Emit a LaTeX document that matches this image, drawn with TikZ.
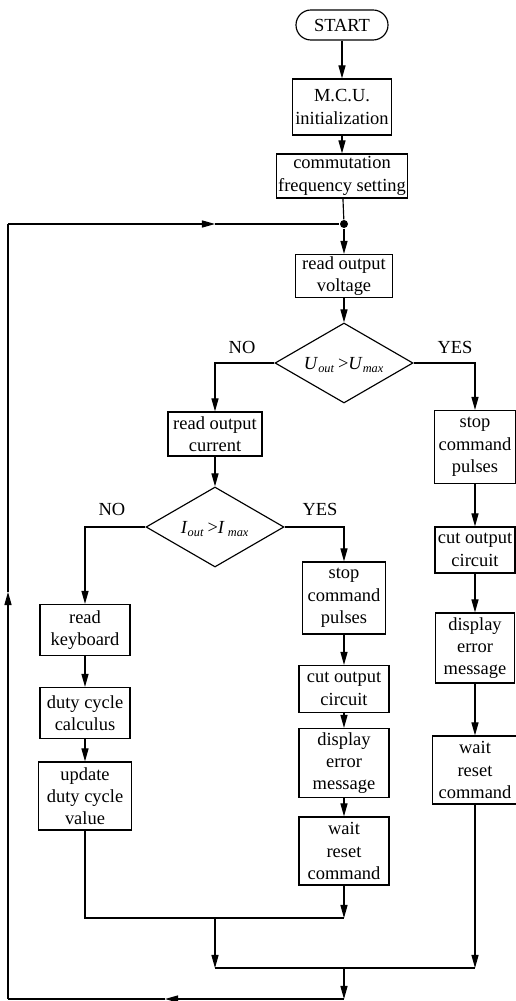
\documentclass[tikz,border=0pt]{standalone}
\usepackage{fontspec}
\setmainfont{Liberation Serif}
\usetikzlibrary{arrows.meta,shapes.geometric}

\tikzset{
  every node/.style={font=\fontsize{12}{14.5}\selectfont},
  box/.style 2 args={draw, align=center, inner sep=1pt,
    minimum width=#1*0.65pt, minimum height=#2*0.65pt},
  cond/.style={draw, diamond, inner sep=0pt, minimum width=138*0.65pt,
    minimum height=80*0.65pt},
  flow/.style={-{Triangle[length=8.5pt,width=4.6pt]}},
}

\begin{document}
\begin{tikzpicture}[x=0.65pt,y=-0.65pt,line width=0.75pt]
\useasboundingbox (0,0) rectangle (515,1001);

% main column
\node[draw, rounded corners=9.7pt, minimum width=92*0.65pt, minimum height=30*0.65pt,
  inner sep=1pt] (start) at (342,25) {START};
\node[box={99}{56}] (mcu) at (342,107) {M.C.U.\\initialization};
\node[box={127}{44}] (comm) at (342,176) {commutation\\frequency setting};
\node[circle, fill, inner sep=0pt, minimum size=8*0.65pt] (dot) at (344,224) {};
\node[box={97}{43}] (volt) at (344,276) {read output\\voltage};
\node[cond] (ucond) at (344,363) {};
\node at (344,365) {\textit{U}\textsubscript{\textit{out}}\,>\textit{U}\textsubscript{\textit{max}}};
\node (uno) at (242,347) {NO};
\node (uyes) at (455,347) {YES};

\draw[flow] (start) -- (mcu);
\draw[flow] (mcu) -- (comm);
\draw (comm) -- (dot);
\draw[flow] (dot) -- (volt);
\draw[flow] (volt) -- (ucond);

% current branch
\node[box={94}{44}] (cur) at (215,434) {read output\\current};
\node[cond] (icond) at (215,527) {};
\node at (215,529) {\textit{I}\textsubscript{\textit{out}}\,>\textit{I}\,\textsubscript{\textit{max}}};
\node (ino) at (112,509) {NO};
\node (iyes) at (320,509) {YES};

\draw[flow] (ucond.west) -| (cur);
\draw[flow] (cur) -- (icond);

% left one
\node[box={90}{51}] (kbd) at (85,630) {read\\keyboard};
\node[box={90}{51}] (calc) at (85,713) {duty cycle\\calculus};
\node[box={93}{68}] (upd) at (85,796) {update\\duty cycle\\value};
\draw[flow] (icond.west) -| (kbd);
\draw[flow] (kbd) -- (calc);
\draw[flow] (calc) -- (upd);

% middle one
\node[box={83}{72}] (stopm) at (344,598) {stop\\command\\pulses};
\node[box={90}{47}] (cutm) at (344,689) {cut output\\circuit};
\node[box={90}{69}] (dispm) at (344,763) {display\\error\\message};
\node[box={90}{68}] (waitm) at (344,851) {wait\\reset\\command};
\draw[flow] (icond.east) -| (stopm);
\draw[flow] (stopm) -- (cutm);
\draw[flow] (cutm) -- (dispm);
\draw[flow] (dispm) -- (waitm);

% right one
\node[box={81}{73}] (stopr) at (475,447) {stop\\command\\pulses};
\node[box={80}{46}] (cutr) at (475,550) {cut output\\circuit};
\node[box={79}{70}] (dispr) at (475,648) {display\\error\\message};
\node[box={85}{68}] (waitr) at (475,770) {wait\\reset\\command};
\draw[flow] (ucond.east) -| (stopr);
\draw[flow] (stopr) -- (cutr);
\draw[flow] (cutr) -- (dispr);
\draw[flow] (dispr) -- (waitr);

% joining and loop back
\coordinate (m1) at (344,918);
\coordinate (m2) at (215,918);
\coordinate (m3) at (215,968);
\coordinate (m4) at (475,968);
\coordinate (m5) at (344,968);
\coordinate (m6) at (344,999);
\coordinate (a1) at (165,999);
\coordinate (c1) at (8,999);
\coordinate (a2) at (8,592);
\coordinate (c2) at (8,224);
\coordinate (a3) at (215,224);

\draw (upd) |- (m1);
\draw[flow] (waitm) -- (m1);
\draw[flow] (m2) -- (m3);
\draw[flow] (waitr) -- (m4);
\draw (m3) -- (m4);
\draw[flow] (m5) -- (m6);
\draw[flow] (m6) -- (a1);
\draw (a1) -- (c1);
\draw[flow] (c1) -- (a2);
\draw (a2) -- (c2);
\draw[flow] (c2) -- (a3);
\draw (a3) -- (dot);
%
\end{tikzpicture}
\end{document}
